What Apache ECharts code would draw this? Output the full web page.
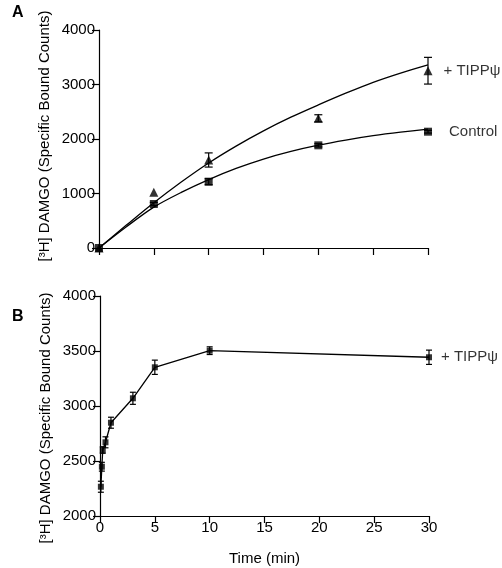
<!DOCTYPE html>
<html>
<head>
<meta charset="utf-8">
<script src="https://cdn.jsdelivr.net/npm/echarts@6/dist/echarts.min.js"></script>
<style>
html,body{margin:0;padding:0;background:#fff;}
#chart{width:502px;height:568px;}
</style>
</head>
<body>
<div id="chart"></div>
<script>
// Panel A measured points
const timeA = [0, 5, 10, 20, 30];
const controlA = [0, 807, 1217, 1884, 2134];
const controlErrA = [0, 30, 55, 30, 25];
const tippA = [0, 1022, 1615, 2380, 3253];
const tippErrA = [0, 0, 130, 65, 245];
// Panel A fitted curves
const fitTime = [0, 2.5, 5, 7.5, 10, 12.5, 15, 17.5, 20, 22.5, 25, 27.5, 30];
const controlFit = [0, 390, 750, 1020, 1255, 1460, 1632, 1772, 1886, 1980, 2060, 2125, 2180];
const tippFit = [0, 420, 830, 1210, 1560, 1870, 2150, 2400, 2625, 2840, 3040, 3210, 3360];
// Panel B
const timeB = [0.08, 0.17, 0.25, 0.5, 1, 3, 5, 10, 30];
const tippB = [2266, 2448, 2600, 2670, 2848, 3070, 3352, 3503, 3443];
const tippErrB = [50, 40, 30, 50, 50, 55, 65, 35, 65];
// Text
const yTitle = '[³H] DAMGO (Specific Bound Counts)';
const xTitle = 'Time (min)';
const labelTipp = '+ TIPPψ';
const labelControl = 'Control';

const FONT = 'Liberation Sans, Arial, Helvetica, sans-serif';

function pairs(xs, ys) { return xs.map((x, i) => [x, ys[i]]); }
function triples(xs, ys, es) { return xs.map((x, i) => [x, ys[i], es[i]]); }

function errRender(cap) {
  return function (params, api) {
    const x = api.value(0), y = api.value(1), e = api.value(2);
    if (!e) return null;
    const t = api.coord([x, y + e]);
    const b = api.coord([x, y - e]);
    const st = { stroke: '#000', lineWidth: 1.2 };
    return {
      type: 'group',
      children: [
        { type: 'line', shape: { x1: t[0], y1: t[1], x2: b[0], y2: b[1] }, style: st },
        { type: 'line', shape: { x1: t[0] - cap, y1: t[1], x2: t[0] + cap, y2: t[1] }, style: st },
        { type: 'line', shape: { x1: b[0] - cap, y1: b[1], x2: b[0] + cap, y2: b[1] }, style: st }
      ]
    };
  };
}

function lastLabel(text, n, dist) {
  return {
    show: true, position: 'right', distance: dist, color: '#000',
    fontFamily: FONT, fontSize: 15,
    formatter: p => (p.dataIndex === n - 1 ? text : '')
  };
}

const axisCommon = {
  axisLine: { show: true, onZero: false, lineStyle: { color: '#000', width: 1.2 } },
  axisTick: { show: true, inside: false, length: 7, lineStyle: { color: '#000', width: 1.2 } },
  splitLine: { show: false },
  axisLabel: { color: '#000', fontFamily: FONT, fontSize: 15, margin: 4, formatter: v => String(v) }
};

const option = {
  backgroundColor: '#fff',
  animation: false,
  grid: [
    { left: 99, top: 30, width: 329, height: 218 },
    { left: 100, top: 296, width: 329, height: 220 }
  ],
  xAxis: [
    Object.assign({}, axisCommon, {
      gridIndex: 0, type: 'value', min: 0, max: 30, interval: 5,
      axisLabel: { show: false }
    }),
    Object.assign({}, axisCommon, {
      gridIndex: 1, type: 'value', min: 0, max: 30, interval: 5,
      name: xTitle, nameLocation: 'middle', nameGap: 35,
      nameTextStyle: { color: '#000', fontFamily: FONT, fontSize: 15 }
    })
  ],
  yAxis: [
    Object.assign({}, axisCommon, {
      gridIndex: 0, type: 'value', min: 0, max: 4000, interval: 1000
    }),
    Object.assign({}, axisCommon, {
      gridIndex: 1, type: 'value', min: 2000, max: 4000, interval: 500
    })
  ],
  graphic: [
    { type: 'text', x: 12, y: 5, style: { text: 'A', font: 'bold 16px ' + FONT, fill: '#000' } },
    { type: 'text', x: 12, y: 309, style: { text: 'B', font: 'bold 16px ' + FONT, fill: '#000' } },
    { type: 'text', x: 45, y: 136, rotation: Math.PI / 2,
      style: { text: yTitle, font: '15px ' + FONT, fill: '#000', textAlign: 'center', textVerticalAlign: 'middle', align: 'center', verticalAlign: 'middle' } },
    { type: 'text', x: 46, y: 418, rotation: Math.PI / 2,
      style: { text: yTitle, font: '15px ' + FONT, fill: '#000', textAlign: 'center', textVerticalAlign: 'middle', align: 'center', verticalAlign: 'middle' } }
  ],
  series: [
    { type: 'line', xAxisIndex: 0, yAxisIndex: 0, data: pairs(fitTime, controlFit),
      smooth: 0.3, showSymbol: false, symbol: 'none',
      lineStyle: { color: '#000', width: 1.3 }, z: 2 },
    { type: 'line', xAxisIndex: 0, yAxisIndex: 0, data: pairs(fitTime, tippFit),
      smooth: 0.3, showSymbol: false, symbol: 'none',
      lineStyle: { color: '#000', width: 1.3 }, z: 2 },
    { type: 'custom', xAxisIndex: 0, yAxisIndex: 0, renderItem: errRender(4),
      data: triples(timeA, controlA, controlErrA), encode: { x: 0, y: 1 }, z: 3 },
    { type: 'custom', xAxisIndex: 0, yAxisIndex: 0, renderItem: errRender(4),
      data: triples(timeA, tippA, tippErrA), encode: { x: 0, y: 1 }, z: 3 },
    { type: 'scatter', xAxisIndex: 0, yAxisIndex: 0, data: pairs(timeA, tippA),
      symbol: 'triangle', symbolSize: 9, itemStyle: { color: '#000' },
      label: lastLabel(labelTipp, timeA.length, 11), z: 4 },
    { type: 'scatter', xAxisIndex: 0, yAxisIndex: 0, data: pairs(timeA, controlA),
      symbol: 'rect', symbolSize: 8, itemStyle: { color: '#000' },
      label: lastLabel(labelControl, timeA.length, 17), z: 5 },
    { type: 'line', xAxisIndex: 1, yAxisIndex: 1, data: pairs(timeB, tippB),
      symbol: 'none', lineStyle: { color: '#000', width: 1.3 }, z: 2 },
    { type: 'custom', xAxisIndex: 1, yAxisIndex: 1, renderItem: errRender(3),
      data: triples(timeB, tippB, tippErrB), encode: { x: 0, y: 1 }, z: 3 },
    { type: 'scatter', xAxisIndex: 1, yAxisIndex: 1, data: pairs(timeB, tippB),
      symbol: 'rect', symbolSize: 6, itemStyle: { color: '#000' },
      label: lastLabel(labelTipp, timeB.length, 9), z: 4 }
  ]
};

const chart = echarts.init(document.getElementById('chart'), null, { renderer: 'canvas' });
chart.setOption(option);
</script>
</body>
</html>
